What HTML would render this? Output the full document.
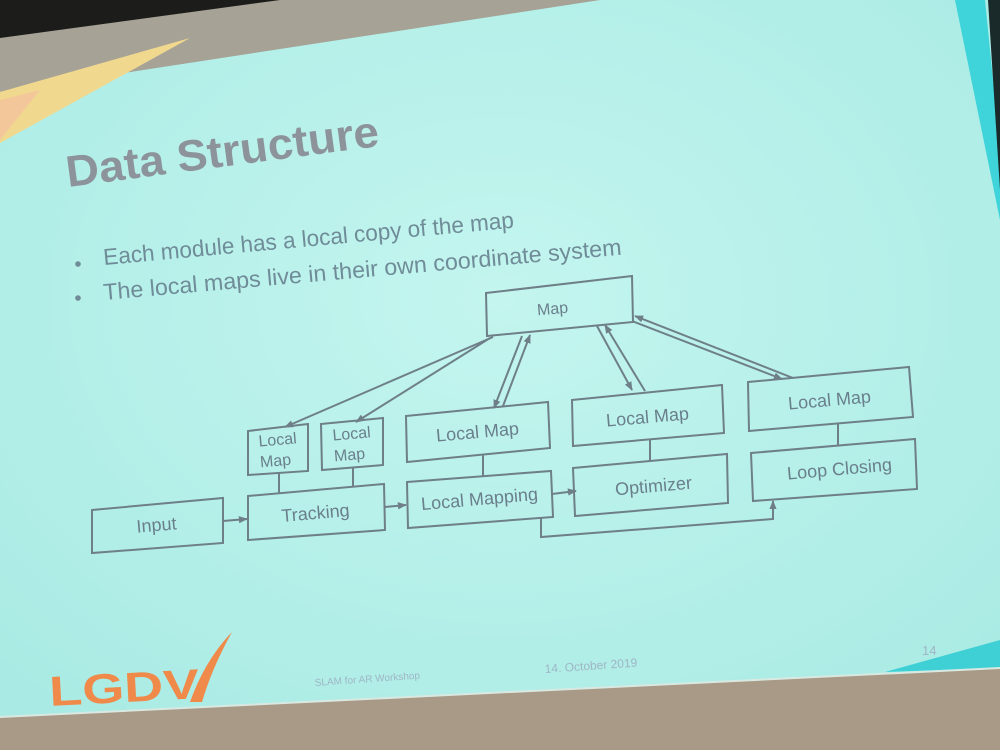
<!DOCTYPE html>
<html><head><meta charset="utf-8"><style>
html,body{margin:0;padding:0;width:1000px;height:750px;overflow:hidden;background:#b3efe9}
svg{display:block}
</style></head><body>
<svg width="1000" height="750" viewBox="0 0 1000 750" xmlns="http://www.w3.org/2000/svg">
<defs>
<radialGradient id="bg" cx="0.5" cy="0.4" r="0.7">
<stop offset="0" stop-color="#c4f5ef"/><stop offset="1" stop-color="#a9ebe4"/>
</radialGradient>
<marker id="ar" viewBox="0 0 10 10" refX="9" refY="5" markerWidth="9" markerHeight="9" orient="auto" markerUnits="userSpaceOnUse">
<path d="M0,1 L10,5 L0,9 z" fill="#6e7f88"/>
</marker>
</defs>
<rect width="1000" height="750" fill="url(#bg)"/>
<polygon points="0,0 600,0 0,92" fill="#a6a296"/>
<polygon points="0,0 280,0 0,38" fill="#1c1c1a"/>
<polygon points="0,92 190,38 0,143" fill="#f0d98e"/>
<polygon points="0,100 40,90 0,140" fill="#f3c79a"/>
<polygon points="955,0 985,0 1000,150 1000,220" fill="#3fd4da"/>
<polygon points="988,0 1000,0 1000,190" fill="#1a2a2a"/>
<polygon points="885,672 1000,640 1000,668" fill="#3fd0d6"/>
<polygon points="0,717 1000,668 1000,750 0,750" fill="#a89a86"/>
<line x1="0" y1="717" x2="1000" y2="668" stroke="#d9e9e2" stroke-width="2"/>

<text x="68" y="187" transform="rotate(-7.5 68 187)" font-family="Liberation Sans, sans-serif" font-weight="bold" font-size="44" fill="#8d939a" textLength="315" lengthAdjust="spacingAndGlyphs">Data Structure</text>
<g font-family="Liberation Sans, sans-serif" font-size="23" fill="#6f8c98">
<circle cx="78" cy="264" r="2.8" fill="#6f8c98"/>
<text x="104" y="265" transform="rotate(-5.2 104 265)" textLength="412" lengthAdjust="spacingAndGlyphs">Each module has a local copy of the map</text>
<circle cx="78" cy="298" r="2.8" fill="#6f8c98"/>
<text x="104" y="300" transform="rotate(-5 104 300)" textLength="520" lengthAdjust="spacingAndGlyphs">The local maps live in their own coordinate system</text>
</g>

<g fill="none" stroke="#6e7f88" stroke-width="2">
<polygon points="92,510 223,498 223,543 92,553"/>
<polygon points="248,496 384,484 385,530 248,540"/>
<polygon points="248,431 308,424 308,471 248,475"/>
<polygon points="321,424 383,418 383,465 322,470"/>
<polygon points="406,416 548,402 550,448 407,462"/>
<polygon points="407,482 551,471 553,517 408,528"/>
<polygon points="486,293 632,276 633,322 487,336"/>
<polygon points="572,400 722,385 724,433 573,446"/>
<polygon points="573,468 727,454 728,503 575,516"/>
<polygon points="748,382 909,367 913,417 749,431"/>
<polygon points="751,453 915,439 917,489 753,501"/>
<line x1="279" y1="473" x2="279" y2="493"/>
<line x1="353" y1="468" x2="353" y2="486"/>
<line x1="483" y1="455" x2="483" y2="477"/>
<line x1="650" y1="440" x2="650" y2="461"/>
<line x1="838" y1="424" x2="838" y2="446"/>
<line x1="223" y1="521" x2="247" y2="519" marker-end="url(#ar)"/>
<line x1="385" y1="507" x2="406" y2="505" marker-end="url(#ar)"/>
<line x1="552" y1="494" x2="576" y2="491" marker-end="url(#ar)"/>
<polyline points="541,518 541,537 773,519 773,501" marker-end="url(#ar)"/>
<line x1="493" y1="337" x2="285" y2="427" marker-end="url(#ar)"/>
<line x1="490" y1="338" x2="356" y2="422" marker-end="url(#ar)"/>
<line x1="522" y1="336" x2="494" y2="408" marker-end="url(#ar)"/>
<line x1="503" y1="406" x2="530" y2="335" marker-end="url(#ar)"/>
<line x1="597" y1="326" x2="632" y2="390" marker-end="url(#ar)"/>
<line x1="645" y1="391" x2="605" y2="325" marker-end="url(#ar)"/>
<line x1="632" y1="321" x2="782" y2="379" marker-end="url(#ar)"/>
<line x1="793" y1="378" x2="635" y2="316" marker-end="url(#ar)"/>
</g>
<g font-family="Liberation Sans, sans-serif" font-size="18" fill="#6a7f8c" text-anchor="middle">
<text x="157" y="531" transform="rotate(-5 157 531)">Input</text>
<text x="316" y="519" transform="rotate(-5 316 519)">Tracking</text>
<text x="278" y="445" transform="rotate(-5 278 445)" font-size="16">Local</text>
<text x="276" y="466" transform="rotate(-5 276 466)" font-size="16">Map</text>
<text x="352" y="439" transform="rotate(-5 352 439)" font-size="16">Local</text>
<text x="350" y="460" transform="rotate(-5 350 460)" font-size="16">Map</text>
<text x="478" y="438" transform="rotate(-5 478 438)">Local Map</text>
<text x="480" y="505" transform="rotate(-5 480 505)">Local Mapping</text>
<text x="553" y="314" transform="rotate(-5 553 314)" font-size="16">Map</text>
<text x="648" y="423" transform="rotate(-5 648 423)">Local Map</text>
<text x="654" y="492" transform="rotate(-5 654 492)">Optimizer</text>
<text x="830" y="406" transform="rotate(-5 830 406)">Local Map</text>
<text x="840" y="475" transform="rotate(-5 840 475)">Loop Closing</text>
</g>

<text x="50" y="706" transform="rotate(-3 50 706)" font-family="Liberation Sans, sans-serif" font-weight="bold" font-size="42" fill="#ef8a4a" textLength="150" lengthAdjust="spacingAndGlyphs">LGDV</text>
<path d="M190,702 Q205,660 232,632 Q212,668 202,702 Z" fill="#ef8a4a"/>
<g font-family="Liberation Sans, sans-serif" fill="#9fb6c6">
<text x="315" y="686" transform="rotate(-4 315 686)" font-size="10">SLAM for AR Workshop</text>
<text x="545" y="673" transform="rotate(-4 545 673)" font-size="12">14. October 2019</text>
<text x="922" y="655" font-size="13">14</text>
</g>
</svg>
</body></html>
